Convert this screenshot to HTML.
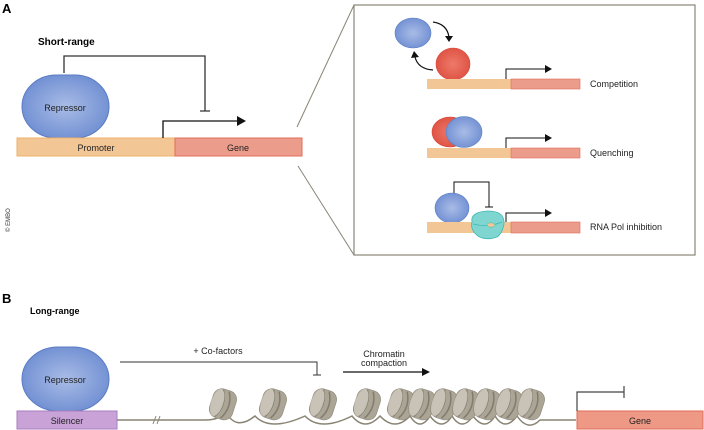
<!DOCTYPE html>
<html><head><meta charset="utf-8"><style>
html,body{margin:0;padding:0;background:#fff}
svg{display:block;font-family:"Liberation Sans",Arial,sans-serif}
</style></head><body>
<svg width="704" height="430" viewBox="0 0 704 430" xmlns="http://www.w3.org/2000/svg">
<defs>
<radialGradient id="bl" cx="50%" cy="50%" r="60%"><stop offset="0" stop-color="#a9bce6"/><stop offset="1" stop-color="#6a8ad0"/></radialGradient>
<radialGradient id="rd" cx="50%" cy="50%" r="60%"><stop offset="0" stop-color="#ee7a6a"/><stop offset="1" stop-color="#dc4d3e"/></radialGradient>
<g id="nuc">
<rect x="-11" y="-15" width="24" height="30" rx="9" fill="#aba596" stroke="#8f897c" stroke-width="0.6"/>
<path d="M-3,-14 Q5,0 -3,14" stroke="#827c70" stroke-width="1.5" fill="none"/>
<path d="M3,-14 Q11,0 3,14" stroke="#827c70" stroke-width="1.5" fill="none"/>
<ellipse cx="-5" cy="0" rx="6" ry="14" fill="#c9c3b7"/>
</g>
<marker id="ah" markerWidth="8" markerHeight="8" refX="6" refY="4" orient="auto" markerUnits="userSpaceOnUse"><path d="M0,0 L8,4 L0,8z" fill="#111"/></marker>
</defs>
<text x="2" y="13" font-size="13" font-weight="bold">A</text>
<text x="38" y="45" font-size="10" font-weight="bold">Short-range</text>
<!-- A left -->
<path d="M64,73 V56 H205 V111 M200,111 H210" stroke="#333" stroke-width="1.3" fill="none"/>
<rect x="22" y="75" width="87" height="63" rx="34" fill="url(#bl)" stroke="#5a7cc4"/>
<text x="65" y="111" font-size="9" text-anchor="middle" fill="#222">Repressor</text>
<rect x="17" y="138" width="158" height="18" fill="#f3c795" stroke="#eeb06a"/>
<rect x="175" y="138" width="127" height="18" fill="#ec9c8a" stroke="#e26c5a"/>
<text x="96" y="151" font-size="9" text-anchor="middle" fill="#222">Promoter</text>
<text x="238" y="151" font-size="9" text-anchor="middle" fill="#222">Gene</text>
<path d="M163,138 V121 H238" stroke="#111" stroke-width="1.3" fill="none"/>
<path d="M237,116 L246,121 L237,126z" fill="#111"/>
<line x1="297" y1="127" x2="354" y2="5" stroke="#8a8577" stroke-width="1"/>
<line x1="298" y1="166" x2="354" y2="255" stroke="#8a8577" stroke-width="1"/>
<rect x="354" y="5" width="341" height="250" fill="#fff" stroke="#8a8577" stroke-width="1.2"/>
<text x="10" y="232" font-size="6" fill="#333" transform="rotate(-90 10 232)">© EMBO</text>
<!-- competition -->
<ellipse cx="413" cy="33" rx="18" ry="15" fill="url(#bl)" stroke="#5a7cc4" stroke-width="0.6"/>
<ellipse cx="453" cy="64" rx="17" ry="16" fill="url(#rd)" stroke="#d84535" stroke-width="0.6"/>
<path d="M433,22 Q447,24 449,37" stroke="#111" stroke-width="1.2" fill="none"/>
<path d="M445,36 L449,42 L453,36z" fill="#111"/>
<path d="M433,70 Q418,69 415,57" stroke="#111" stroke-width="1.2" fill="none"/>
<path d="M411,58 L414,51 L419,57z" fill="#111"/>
<rect x="427" y="79" width="84" height="10" fill="#f3c795"/>
<rect x="511" y="79" width="69" height="10" fill="#ec9c8a" stroke="#e26c5a" stroke-width="0.6"/>
<path d="M506,79 V69 H546" stroke="#111" stroke-width="1" fill="none"/>
<path d="M545,65 L552,69 L545,73z" fill="#111"/>
<text x="590" y="87" font-size="9" fill="#222">Competition</text>
<!-- quenching -->
<ellipse cx="450" cy="132" rx="18" ry="15" fill="url(#rd)" stroke="#d84535" stroke-width="0.6"/>
<ellipse cx="464" cy="132" rx="18" ry="15.5" fill="url(#bl)" stroke="#5a7cc4" stroke-width="0.6"/>
<rect x="427" y="148" width="84" height="10" fill="#f3c795"/>
<rect x="511" y="148" width="69" height="10" fill="#ec9c8a" stroke="#e26c5a" stroke-width="0.6"/>
<path d="M506,148 V138 H546" stroke="#111" stroke-width="1" fill="none"/>
<path d="M545,134 L552,138 L545,142z" fill="#111"/>
<text x="590" y="156" font-size="9" fill="#222">Quenching</text>
<!-- RNA pol -->
<path d="M454,195 V182 H489 V207 M485,207 H493" stroke="#111" stroke-width="1" fill="none"/>
<ellipse cx="452" cy="208" rx="17" ry="15" fill="url(#bl)" stroke="#5a7cc4" stroke-width="0.6"/>
<rect x="427" y="222" width="84" height="11" fill="#f3c795"/>
<rect x="511" y="222" width="69" height="11" fill="#ec9c8a" stroke="#e26c5a" stroke-width="0.6"/>
<path d="M472,222 Q470,212 488,211 Q505,211 504,224 Q502,234 497,237 Q486,241 478,236 Q470,230 472,222z" fill="#7fd6d0" stroke="#3cb8b0" stroke-width="0.8"/>
<path d="M473,224 Q488,228 502,222" stroke="#3cb8b0" stroke-width="0.7" fill="none"/>
<ellipse cx="491" cy="225" rx="4" ry="2.2" fill="#f3c795" stroke="#3cb8b0" stroke-width="0.5"/>
<path d="M506,222 V213 H546" stroke="#111" stroke-width="1" fill="none"/>
<path d="M545,209 L552,213 L545,217z" fill="#111"/>
<text x="590" y="230" font-size="9" fill="#222">RNA Pol inhibition</text>
<!-- B -->
<text x="2" y="303" font-size="13" font-weight="bold">B</text>
<text x="30" y="314" font-size="9" font-weight="bold">Long-range</text>
<rect x="22" y="347" width="87" height="64" rx="36" fill="url(#bl)" stroke="#5a7cc4"/>
<text x="65" y="383" font-size="9" text-anchor="middle" fill="#222">Repressor</text>
<rect x="17" y="411" width="100" height="18" fill="#c9a3d8" stroke="#a77cbb"/>
<text x="67" y="424" font-size="9" text-anchor="middle" fill="#222">Silencer</text>
<path d="M120,362 H317 V375 M313,375 H321" stroke="#333" stroke-width="1" fill="none"/>
<text x="218" y="354" font-size="9" text-anchor="middle" fill="#222">+ Co-factors</text>
<text x="384" y="357" font-size="9" text-anchor="middle" fill="#222">Chromatin</text>
<text x="384" y="366" font-size="9" text-anchor="middle" fill="#222">compaction</text>
<line x1="343" y1="372" x2="423" y2="372" stroke="#111" stroke-width="1.2"/>
<path d="M422,368 L430,372 L422,376z" fill="#111"/>
<path d="M117,420 H205 Q222,420 225,410 Q235,432 255,416 Q270,432 305,416 Q320,432 352,416 Q365,432 380,416 Q395,432 410,416 Q420,432 430,416 Q442,432 452,416 Q462,432 473,416 Q485,432 495,416 Q505,432 517,416 Q528,432 540,420 H576" stroke="#8a8474" stroke-width="1.5" fill="none"/>
<path d="M153,424 L156,416 M157,424 L160,416" stroke="#8a8474" stroke-width="1"/>
<use href="#nuc" transform="translate(222,404) rotate(18)"/>
<use href="#nuc" transform="translate(272,404) rotate(18)"/>
<use href="#nuc" transform="translate(322,404) rotate(18)"/>
<use href="#nuc" transform="translate(366,404) rotate(18)"/>
<use href="#nuc" transform="translate(400,404) rotate(18)"/>
<use href="#nuc" transform="translate(421,404) rotate(18)"/>
<use href="#nuc" transform="translate(443,404) rotate(18)"/>
<use href="#nuc" transform="translate(465,404) rotate(18)"/>
<use href="#nuc" transform="translate(486,404) rotate(18)"/>
<use href="#nuc" transform="translate(508,404) rotate(18)"/>
<use href="#nuc" transform="translate(530,404) rotate(18)"/>
<rect x="577" y="411" width="126" height="18" fill="#ee9886" stroke="#e26c5a"/>
<text x="640" y="424" font-size="9" text-anchor="middle" fill="#222">Gene</text>
<path d="M577,411 V392 H624 M624,386 V398" stroke="#444" stroke-width="1.2" fill="none"/>
</svg>
</body></html>
